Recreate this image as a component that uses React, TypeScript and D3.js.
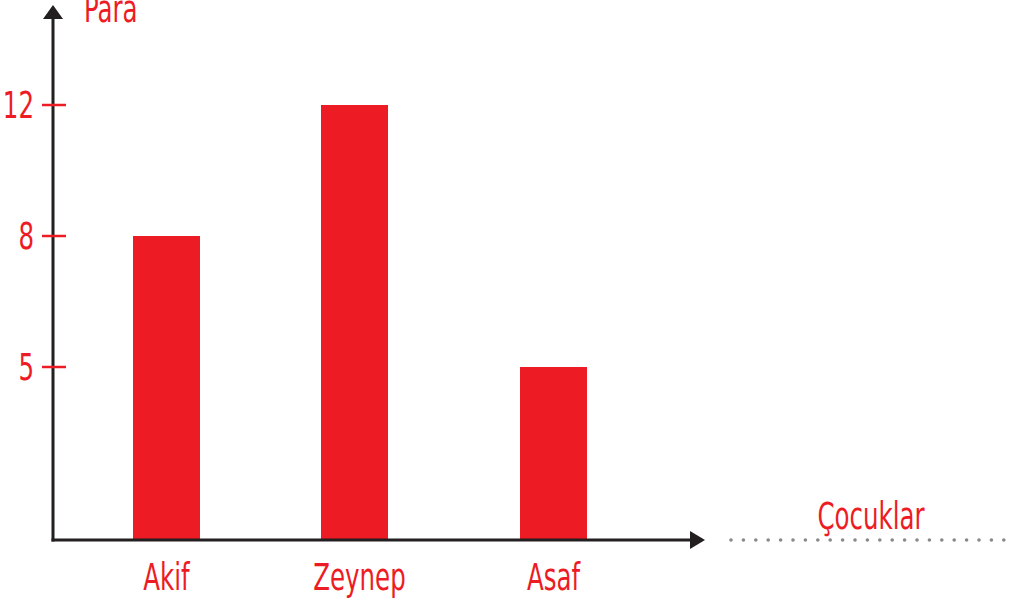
import * as d3 from 'd3';

const children = ['Akif', 'Zeynep', 'Asaf'];
const money = [8, 12, 5];
const yTicks = [5, 8, 12];

const W = 1010;
const H = 602;
const RED = '#ED1C24';
const AXIS = '#231F20';
const FONT = '"DejaVu Sans Condensed", "DejaVu Sans", sans-serif';

// narrow, tall lettering like the hand-drawn font of the original
const Label = ({ x, y, anchor = 'start', children }: {
  x: number; y: number; anchor?: string; children: React.ReactNode;
}) => (
  <text
    transform={`translate(${x},${y}) scale(0.8,1.1)`}
    textAnchor={anchor}
    fill={RED}
    fontFamily={FONT}
    fontSize={34}
    style={{ fontStretch: 'condensed' }}
  >
    {children}
  </text>
);

export default function App() {
  const x0 = 53;
  const y0 = 540;

  // the picture spaces the ticks evenly, not linearly
  const y = d3.scaleLinear().domain([0, 5, 8, 12]).range([y0, 367, 236, 105]);
  // bar centres in the picture are not quite evenly spaced
  const xi = d3.scaleLinear().domain([0, 1, 2]).range([166.5, 354.5, 553.5]);
  const x = (c: string) => xi(children.indexOf(c));
  const barW = 67;

  const dots = d3.range(731, 1010, 12.4);

  return (
    <svg width={W} height={H} style={{ position: 'absolute', left: 0, top: 0 }}>
      <rect width={W} height={H} fill="#fff" />

      {children.map((c, i) => (
        <rect
          key={c}
          x={x(c) - barW / 2}
          y={y(money[i])}
          width={barW}
          height={y0 - y(money[i])}
          fill={RED}
        />
      ))}

      {/* axes */}
      <line x1={x0} y1={y0 + 1.5} x2={x0} y2={14} stroke={AXIS} strokeWidth={3} />
      <path d={`M${x0 - 10},${19} L${x0},${5} L${x0 + 10},${19} Z`} fill={AXIS} />
      <line x1={x0 - 1.5} y1={y0} x2={692} y2={y0} stroke={AXIS} strokeWidth={3} />
      <path d={`M${690},${y0 - 9} L${705},${y0} L${690},${y0 + 9} Z`} fill={AXIS} />

      {yTicks.map(t => (
        <g key={t}>
          <line x1={x0 - 11} x2={x0 + 13} y1={y(t)} y2={y(t)} stroke={RED} strokeWidth={2.5} />
          <Label x={34} y={y(t) + 13} anchor="end">{t}</Label>
        </g>
      ))}

      {children.map((c, i) => (
        <Label key={c} x={x(c) + (i === 1 ? 5 : 0)} y={590} anchor="middle">{c}</Label>
      ))}

      <Label x={84} y={22}>Para</Label>
      <Label x={871} y={529} anchor="middle">Çocuklar</Label>

      {dots.map(d => (
        <circle key={d} cx={d} cy={y0} r={1.8} fill="#888" />
      ))}
    </svg>
  );
}
